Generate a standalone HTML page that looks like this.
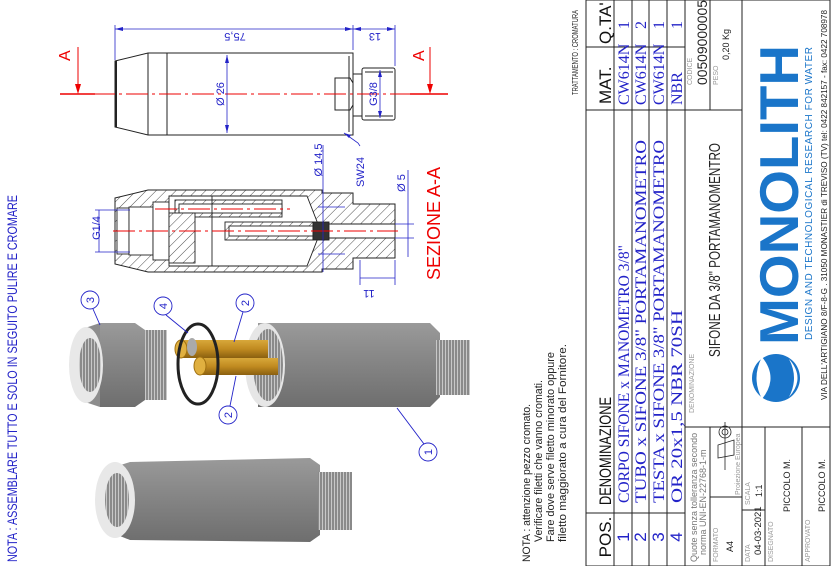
<!DOCTYPE html>
<html><head><meta charset="utf-8"><style>
html,body{margin:0;padding:0;background:#fff;}
svg{display:block;}
text{font-family:"Liberation Sans",sans-serif;}
.s{font-family:"Liberation Serif",serif;fill:#2323c8;}
</style></head><body>
<svg width="833" height="566" viewBox="0 0 833 566" xmlns="http://www.w3.org/2000/svg">
<defs>
<pattern id="h" width="7" height="7" patternUnits="userSpaceOnUse" patternTransform="rotate(45)">
<rect width="7" height="7" fill="#fff"/><line x1="0" y1="0" x2="0" y2="7" stroke="#222" stroke-width="0.8"/></pattern>
<linearGradient id="g" x1="0" y1="0" x2="0" y2="1">
<stop offset="0" stop-color="#9a9a9a"/><stop offset="0.35" stop-color="#8a8a8a"/><stop offset="1" stop-color="#6e6e6e"/></linearGradient>
<linearGradient id="gd" x1="0" y1="0" x2="0" y2="1">
<stop offset="0" stop-color="#d8a83a"/><stop offset="0.5" stop-color="#c08a20"/><stop offset="1" stop-color="#8a6010"/></linearGradient>
<pattern id="th" width="3" height="6" patternUnits="userSpaceOnUse"><rect width="3" height="6" fill="#8a8a8a"/><line x1="1.5" y1="0" x2="1.5" y2="6" stroke="#c8c8c8" stroke-width="1"/></pattern>
</defs>
<rect x="0" y="0" width="833" height="566" fill="#fff"/>

<!-- ===== TOP VIEW ===== -->
<g stroke="#222" stroke-width="1" fill="none">
<path d="M115,61 L148,53 L353,53 L353,135 L148,135 L115,127 Z"/>
<line x1="167" y1="53" x2="167" y2="135"/>
<line x1="148" y1="53" x2="148" y2="135"/>
<path d="M335,78 L350,78 L353,83 L353,105 L350,110 L335,110 Z"/>
<line x1="349" y1="56" x2="349" y2="132"/>
<rect x="353" y="74" width="9" height="42"/>
<rect x="362" y="68" width="33" height="52" rx="2"/>
<line x1="365" y1="72" x2="393" y2="72"/><line x1="365" y1="116" x2="393" y2="116"/>
</g>
<line x1="116" y1="61" x2="116" y2="127" stroke="#222" stroke-width="2"/>
<g stroke="#e00" stroke-width="1">
<line x1="60" y1="94" x2="448" y2="94" stroke-dasharray="22,4,3,4"/>
<line x1="60" y1="94" x2="95" y2="94" stroke-width="1.5"/>
<line x1="410" y1="94" x2="448" y2="94" stroke-width="1.5"/>
<line x1="78" y1="47" x2="78" y2="88"/><line x1="430" y1="47" x2="430" y2="88"/>
</g>
<path d="M75,84 L81,84 L78,94Z M427,84 L433,84 L430,94Z" fill="#e00"/>
<text transform="translate(70,61) rotate(-90)" font-size="16" fill="#e00">A</text>
<text transform="translate(424,61) rotate(-90)" font-size="16" fill="#e00">A</text>
<g stroke="#2323c8" stroke-width="0.8" fill="#2323c8">
<line x1="115" y1="25" x2="115" y2="60"/><line x1="353" y1="25" x2="353" y2="50"/><line x1="395" y1="25" x2="395" y2="66"/>
<line x1="115" y1="29" x2="395" y2="29"/>
<path d="M115,29 l8,-2 v4z M353,29 l-8,-2 v4z M353,29 l8,-2 v4z M395,29 l-8,-2 v4z" stroke="none"/>
<line x1="227" y1="55" x2="227" y2="133"/>
<path d="M227,55 l-2,8 h4z M227,133 l-2,-8 h4z" stroke="none"/>
<line x1="380" y1="70" x2="380" y2="118"/>
<path d="M380,70 l-2,7 h4z M380,118 l-2,-7 h4z" stroke="none"/>
<path d="M344,133 L358,143 L360,146" fill="none"/>
<path d="M344,133 l7,2 l-2,3z" stroke="none"/>
</g>
<g fill="#2323c8" font-size="11">
<text transform="translate(235,33) rotate(180)" text-anchor="middle">75,5</text>
<text transform="translate(375,33) rotate(180)" text-anchor="middle">13</text>
<text transform="translate(224,94) rotate(-90)" text-anchor="middle">Ø 26</text>
<text transform="translate(377,94) rotate(-90)" text-anchor="middle">G3/8</text>
<text transform="translate(364,172) rotate(-90)" text-anchor="middle">SW24</text>
<text transform="translate(322,160) rotate(-90)" text-anchor="middle">Ø 14,5</text>
<text transform="translate(405,183) rotate(-90)" text-anchor="middle">Ø 5</text>
<text transform="translate(369,290) rotate(180)" text-anchor="middle">11</text>
<text transform="translate(100,228) rotate(-90)" text-anchor="middle">G1/4</text>
</g>

<!-- ===== SECTION ===== -->
<path d="M115,198 L148,190 L322,190 L322,193 L353,193 L353,204 L395,204 L395,258 L353,258 L353,269 L322,269 L322,272 L148,272 L115,264 Z" fill="url(#h)" stroke="#222" stroke-width="1"/>
<g fill="#fff" stroke="#222" stroke-width="0.9">
<rect x="117" y="208" width="12" height="46"/>
<rect x="129" y="207" width="24" height="48"/>
<rect x="153" y="202" width="16" height="58"/>
<path d="M169,196 L307,196 L318,224 L395,224 L395,238 L318,238 L307,266 L169,266 Z"/>
</g>
<g stroke="#222" stroke-width="0.9">
<rect x="175" y="200" width="107" height="17" fill="url(#h)"/>
<rect x="179" y="204" width="103" height="9" fill="#fff"/>
<rect x="225" y="222" width="88" height="18" fill="url(#h)"/>
<rect x="229" y="226" width="84" height="10" fill="#fff"/>
<rect x="169" y="213" width="26" height="50" fill="url(#h)"/>
<rect x="313" y="222" width="16" height="18" fill="#333"/>
<line x1="212" y1="196" x2="212" y2="266"/>
</g>
<g stroke="#e00" stroke-width="0.9" stroke-dasharray="22,4,3,4">
<line x1="113" y1="231" x2="398" y2="231"/>
<line x1="155" y1="209" x2="290" y2="209"/>
</g>
<g stroke="#2323c8" stroke-width="0.8" fill="#2323c8">
<line x1="95" y1="210" x2="130" y2="210"/><line x1="95" y1="252" x2="130" y2="252"/>
<line x1="99" y1="210" x2="99" y2="252"/>
<line x1="323" y1="145" x2="323" y2="272"/><line x1="318" y1="207" x2="345" y2="207"/><line x1="318" y1="254" x2="345" y2="254"/>
<line x1="408" y1="170" x2="408" y2="257"/><line x1="395" y1="224" x2="414" y2="224"/><line x1="395" y1="238" x2="414" y2="238"/>
<line x1="360" y1="260" x2="360" y2="285"/><line x1="395" y1="260" x2="395" y2="285"/><line x1="360" y1="278" x2="395" y2="278"/>
</g>
<text transform="translate(440,280) rotate(-90)" font-size="18" fill="#e00">SEZIONE A-A</text>

<!-- ===== 3D parts ===== -->
<path d="M258,323 L430,323 L440,333 L440,397 L430,407 L258,407 Z" fill="url(#g)"/>
<ellipse cx="265" cy="365" rx="20" ry="42" fill="#e6e6e6"/>
<ellipse cx="268" cy="365" rx="15" ry="36" fill="url(#th)"/>
<rect x="436" y="340" width="34" height="55" fill="url(#th)"/>
<rect x="180" y="340" width="88" height="18" fill="url(#gd)"/>
<rect x="198" y="358" width="80" height="17" fill="url(#gd)"/>
<ellipse cx="181" cy="349" rx="6" ry="9" fill="#e0b040" stroke="#a07010"/>
<ellipse cx="200" cy="366" rx="6" ry="9" fill="#e0b040" stroke="#a07010"/>
<ellipse cx="192" cy="347" rx="5" ry="9" fill="#aaa"/>
<ellipse cx="198" cy="364" rx="20" ry="40" fill="none" stroke="#222" stroke-width="3"/>
<path d="M100,323 L135,323 L145,330 L145,400 L135,407 L100,407 Z" fill="url(#g)"/>
<rect x="145" y="330" width="22" height="70" fill="url(#th)"/>
<path d="M85,328 L100,323 L100,407 L85,402 Z" fill="#8d8d8d"/>
<ellipse cx="86" cy="365" rx="17" ry="38" fill="#e8e8e8"/>
<ellipse cx="90" cy="365" rx="11" ry="27" fill="url(#th)"/>
<path d="M130,462 L310,458 L320,465 L320,535 L310,542 L130,540 L105,530 L105,470 Z" fill="url(#g)"/>
<rect x="318" y="472" width="34" height="58" fill="url(#th)"/>
<ellipse cx="115" cy="500" rx="20" ry="38" fill="#e8e8e8"/>
<ellipse cx="117" cy="500" rx="12" ry="27" fill="url(#th)"/>
<g stroke="#2323c8" stroke-width="0.9" fill="#fff">
<line x1="93" y1="309" x2="100" y2="325"/>
<line x1="166" y1="315" x2="188" y2="333"/>
<line x1="243" y1="312" x2="234" y2="342"/>
<line x1="230" y1="406" x2="236" y2="376"/>
<line x1="424" y1="444" x2="397" y2="408"/>
<circle cx="90" cy="300" r="9"/><circle cx="163" cy="306" r="9"/><circle cx="245" cy="303" r="9"/><circle cx="228" cy="415" r="9"/><circle cx="428" cy="452" r="9"/>
</g>
<g fill="#2323c8" font-size="11" text-anchor="middle">
<text transform="translate(94,300) rotate(-90)">3</text>
<text transform="translate(167,306) rotate(-90)">4</text>
<text transform="translate(249,303) rotate(-90)">2</text>
<text transform="translate(232,415) rotate(-90)">2</text>
<text transform="translate(432,452) rotate(-90)">1</text>
</g>
<text transform="translate(17,562) rotate(-90)" font-size="13.5" fill="#2323c8" textLength="367" lengthAdjust="spacingAndGlyphs">NOTA : ASSEMBLARE TUTTO E SOLO IN SEGUITO PULIRE E CROMARE</text>

<!-- ===== NOTES ===== -->
<g font-size="11" fill="#222">
<text transform="translate(530,562) rotate(-90)" textLength="158" lengthAdjust="spacingAndGlyphs">NOTA : attenzione pezzo cromato.</text>
<text transform="translate(542,542) rotate(-90)" textLength="162" lengthAdjust="spacingAndGlyphs">Verificare filetti che vanno cromati.</text>
<text transform="translate(554,542) rotate(-90)" textLength="190" lengthAdjust="spacingAndGlyphs">Fare dove serve filetto minorato oppure</text>
<text transform="translate(566,542) rotate(-90)" textLength="198" lengthAdjust="spacingAndGlyphs">filetto maggiorato a cura del Fornitore.</text>
<text transform="translate(578,95) rotate(-90)" font-size="8" textLength="85" lengthAdjust="spacingAndGlyphs">TRATTAMENTO : CROMATURA</text>
</g>

<!-- ===== TITLE BLOCK ===== -->
<g stroke="#222" stroke-width="1" fill="none">
<rect x="586" y="0" width="244" height="566"/>
<line x1="614" y1="0" x2="614" y2="566"/>
<line x1="632" y1="0" x2="632" y2="566"/>
<line x1="649" y1="0" x2="649" y2="566"/>
<line x1="667" y1="0" x2="667" y2="566"/>
<line x1="685" y1="0" x2="685" y2="566"/>
<line x1="742" y1="0" x2="742" y2="566"/>
<line x1="710" y1="0" x2="710" y2="110"/>
<line x1="685" y1="110" x2="742" y2="110"/>
<line x1="586" y1="47" x2="685" y2="47"/>
<line x1="586" y1="110" x2="685" y2="110"/>
<line x1="586" y1="513" x2="685" y2="513"/>
<line x1="685" y1="427" x2="830" y2="427"/>
<line x1="710" y1="427" x2="710" y2="566"/>
<line x1="765" y1="427" x2="765" y2="566"/>
<line x1="802" y1="427" x2="802" y2="566"/>
<line x1="742" y1="510" x2="765" y2="510"/>
<line x1="710" y1="497" x2="742" y2="497"/>
</g>
<g font-size="17" fill="#111">
<text transform="translate(611,537) rotate(-90)" text-anchor="middle">POS.</text>
<text transform="translate(611,505) rotate(-90)" textLength="108" lengthAdjust="spacingAndGlyphs">DENOMINAZIONE</text>
<text transform="translate(611,104) rotate(-90)">MAT.</text>
<text transform="translate(611,44) rotate(-90)">Q.TA'</text>
</g>
<g class="s" font-size="16">
<text class="s" transform="translate(629,503) rotate(-90)" textLength="258" lengthAdjust="spacingAndGlyphs">CORPO SIFONE x MANOMETRO 3/8"</text>
<text class="s" transform="translate(646,503) rotate(-90)" textLength="363" lengthAdjust="spacingAndGlyphs">TUBO x SIFONE 3/8" PORTAMANOMETRO</text>
<text class="s" transform="translate(664,503) rotate(-90)" textLength="363" lengthAdjust="spacingAndGlyphs">TESTA x SIFONE 3/8" PORTAMANOMETRO</text>
<text class="s" transform="translate(682,503) rotate(-90)" textLength="193" lengthAdjust="spacingAndGlyphs">OR 20x1,5 NBR 70SH</text>
<text class="s" transform="translate(629,105) rotate(-90)">CW614N</text>
<text class="s" transform="translate(646,105) rotate(-90)">CW614N</text>
<text class="s" transform="translate(664,105) rotate(-90)">CW614N</text>
<text class="s" transform="translate(682,105) rotate(-90)">NBR</text>
<text class="s" transform="translate(629,25) rotate(-90)" text-anchor="middle">1</text>
<text class="s" transform="translate(646,25) rotate(-90)" text-anchor="middle">2</text>
<text class="s" transform="translate(664,25) rotate(-90)" text-anchor="middle">1</text>
<text class="s" transform="translate(682,25) rotate(-90)" text-anchor="middle">1</text>
</g>
<g fill="#2323c8" font-size="17" font-family="Liberation Sans">
<text transform="translate(629,537) rotate(-90)" text-anchor="middle">1</text>
<text transform="translate(646,537) rotate(-90)" text-anchor="middle">2</text>
<text transform="translate(664,537) rotate(-90)" text-anchor="middle">3</text>
<text transform="translate(682,537) rotate(-90)" text-anchor="middle">4</text>
</g>
<g fill="#999" font-size="7">
<text transform="translate(694,413) rotate(-90)">DENOMINAZIONE</text>
<text transform="translate(692,85) rotate(-90)">CODICE</text>
<text transform="translate(718,85) rotate(-90)">PESO</text>
<text transform="translate(697,562) rotate(-90)" font-size="9" fill="#777">Quote senza tolleranza secondo</text>
<text transform="translate(706,555) rotate(-90)" font-size="9" fill="#777">norma UNI-EN-22768-1-m</text>
<text transform="translate(718,562) rotate(-90)">FORMATO</text>
<text transform="translate(740,495) rotate(-90)">Proiezione Europea</text>
<text transform="translate(750,562) rotate(-90)">DATA</text>
<text transform="translate(750,505) rotate(-90)">SCALA</text>
<text transform="translate(773,562) rotate(-90)">DISEGNATO</text>
<text transform="translate(810,562) rotate(-90)">APPROVATO</text>
</g>
<g fill="#222" font-size="11">
<text transform="translate(720,357) rotate(-90)" font-size="16" textLength="214" lengthAdjust="spacingAndGlyphs">SIFONE DA 3/8" PORTAMANOMENTRO</text>
<text transform="translate(707,85) rotate(-90)" font-size="14" textLength="85" lengthAdjust="spacingAndGlyphs">00509000005</text>
<text transform="translate(729,60) rotate(-90)" font-size="9">0,20 Kg</text>
<text transform="translate(733,552) rotate(-90)" font-size="9">A4</text>
<text transform="translate(761,555) rotate(-90)" font-size="9.5">04-03-2021</text>
<text transform="translate(762,497) rotate(-90)" font-size="9">1:1</text>
<text transform="translate(790,512) rotate(-90)" font-size="9">PICCOLO M.</text>
<text transform="translate(825,512) rotate(-90)" font-size="9">PICCOLO M.</text>
</g>
<g stroke="#222" stroke-width="0.8" fill="none">
<path d="M718,458 L734,455 L734,440 L718,445 Z"/>
<circle cx="725" cy="432" r="6"/><circle cx="725" cy="432" r="3"/>
<line x1="725" y1="422" x2="725" y2="470"/>
</g>
<!-- logo -->
<g>
<circle cx="776" cy="378" r="24" fill="#1a75c9"/>
<path d="M762,357 Q779,378 762,399 Q751,378 762,357Z" fill="#fff"/>
<path d="M789,359 Q806,378 789,397 Q799,378 789,359Z" fill="#fff"/>
</g>
<text transform="translate(798,345) rotate(-90)" font-size="55" font-weight="bold" fill="#1a75c9" textLength="300" lengthAdjust="spacingAndGlyphs">MONOLITH</text>
<text transform="translate(812,340) rotate(-90)" font-size="10" fill="#1a75c9" textLength="293" lengthAdjust="spacing">DESIGN AND TECHNOLOGICAL RESEARCH FOR WATER</text>
<text transform="translate(827,400) rotate(-90)" font-size="8" fill="#222" textLength="390" lengthAdjust="spacingAndGlyphs">VIA DELL'ARTIGIANO 8/F-8-G . 31050 MONASTIER di TREVISO (TV) tel: 0422 842157 - fax: 0422 708978</text>
</svg>
</body></html>
